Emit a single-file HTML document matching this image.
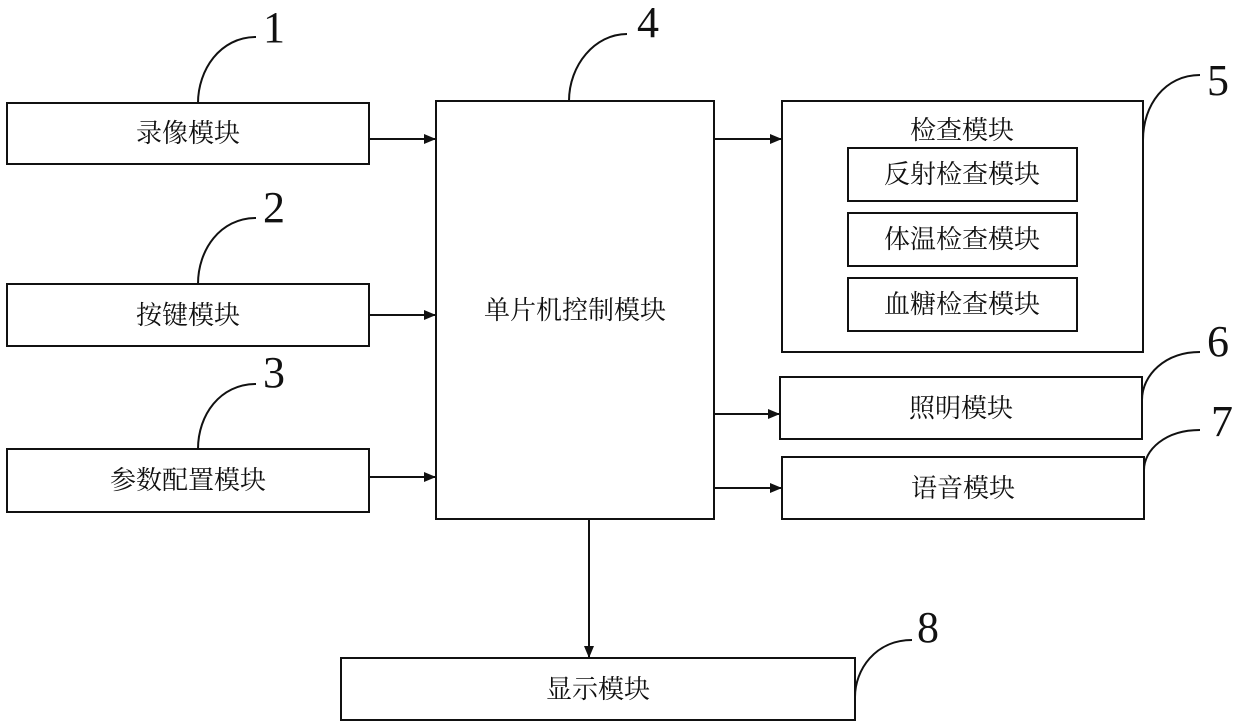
<!DOCTYPE html>
<html><head><meta charset="utf-8"><style>
html,body{margin:0;padding:0;background:#fff;}
svg{display:block}
.t{font-family:"Liberation Sans","Noto Serif CJK SC","Noto Sans CJK SC",sans-serif;font-size:26px;fill:#111;text-anchor:middle;dominant-baseline:central}
.n{font-family:"Liberation Serif",serif;font-size:44px;fill:#111;text-anchor:middle}
</style></head><body>
<svg width="1240" height="728" viewBox="0 0 1240 728" xmlns="http://www.w3.org/2000/svg">
<defs><marker id="a" markerWidth="12" markerHeight="10" refX="11" refY="5" orient="auto" markerUnits="userSpaceOnUse"><path d="M0,0 L12,5 L0,10 z" fill="#111"/></marker></defs>
<g fill="none" stroke="#111" stroke-width="2">
<rect x="7" y="103" width="362" height="61"/>
<rect x="7" y="284" width="362" height="62"/>
<rect x="7" y="449" width="362" height="63"/>
<rect x="436" y="101" width="278" height="418"/>
<rect x="782" y="101" width="361" height="251"/>
<rect x="848" y="148" width="229" height="53"/>
<rect x="848" y="213" width="229" height="53"/>
<rect x="848" y="278" width="229" height="53"/>
<rect x="780" y="377" width="362" height="62"/>
<rect x="782" y="457" width="362" height="62"/>
<rect x="341" y="658" width="514" height="62"/>
<line x1="369" y1="139" x2="435" y2="139" marker-end="url(#a)"/>
<line x1="369" y1="315" x2="435" y2="315" marker-end="url(#a)"/>
<line x1="369" y1="477" x2="435" y2="477" marker-end="url(#a)"/>
<line x1="714" y1="139" x2="781" y2="139" marker-end="url(#a)"/>
<line x1="714" y1="414" x2="779" y2="414" marker-end="url(#a)"/>
<line x1="714" y1="488" x2="781" y2="488" marker-end="url(#a)"/>
<line x1="589" y1="519" x2="589" y2="657" marker-end="url(#a)"/>
<path d="M198,103 C198,70 220,37 256,37"/>
<path d="M198,284 C198,250 220,218 256,218"/>
<path d="M198,449 C198,415 220,384 256,384"/>
<path d="M569,101 C569,65 595,34 627,34"/>
<path d="M1143,140 C1143,105 1165,75 1200,75"/>
<path d="M1142,400 C1142,375 1165,352 1200,352"/>
<path d="M1144,470 C1144,450 1165,430 1200,430"/>
<path d="M855,697 C855,670 875,640 912,640"/>
</g>
<g class="n">
<text x="274" y="42">1</text>
<text x="274" y="222">2</text>
<text x="274" y="387">3</text>
<text x="648" y="37">4</text>
<text x="1218" y="95">5</text>
<text x="1218" y="356">6</text>
<text x="1222" y="436">7</text>
<text x="928" y="642">8</text>
</g>
<g class="t">
<text x="188" y="133">录像模块</text>
<text x="188" y="315">按键模块</text>
<text x="188" y="480">参数配置模块</text>
<text x="575" y="310">单片机控制模块</text>
<text x="962" y="130">检查模块</text>
<text x="962" y="174">反射检查模块</text>
<text x="962" y="239">体温检查模块</text>
<text x="962" y="304">血糖检查模块</text>
<text x="961" y="408">照明模块</text>
<text x="963" y="488">语音模块</text>
<text x="598" y="689">显示模块</text>
</g>
</svg>
</body></html>
